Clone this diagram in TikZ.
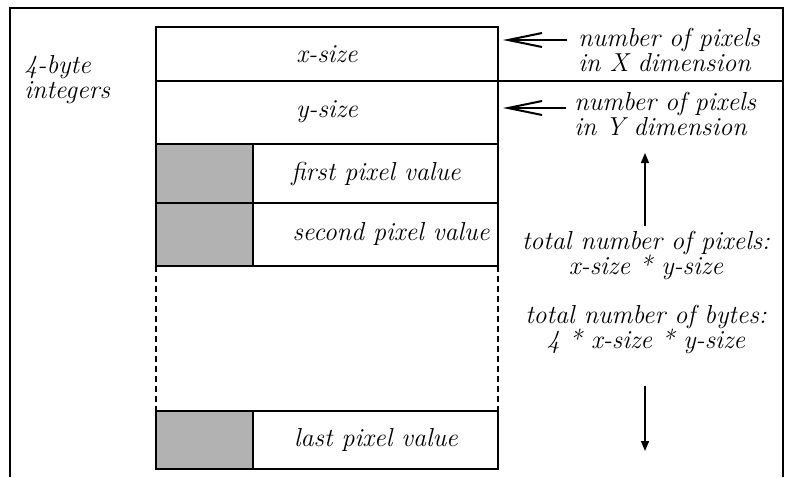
\documentclass[tikz,border=0pt]{standalone}
\usetikzlibrary{arrows.meta}
\begin{document}
\begin{tikzpicture}[x=0.5pt,y=-0.5pt,
  lbl/.style={font=\fontsize{13}{13.5}\selectfont\itshape, inner sep=0pt, align=center},
  lbll/.style={lbl, align=left, anchor=west},
  boxline/.style={line width=1.4pt},
  frameline/.style={line width=1pt},
  shade/.style={fill=black!30},
  barb/.style={-{Straight Barb[length=17pt,width=7pt,line width=1pt]}, line width=1pt},
  tri/.style={-{Triangle[length=5pt,width=4pt]}, line width=0.8pt}]
\useasboundingbox (0,0) rectangle (791,477);
% outer frame
\draw[frameline] (10,477) -- (10,8) -- (783,8) -- (783,477);
\draw[line width=0.7pt] (498,81) -- (783,81);
% shaded cells
\fill[shade] (156,144) rectangle (253,266);
\fill[shade] (156,411) rectangle (253,469);
% main box (upper part)
\draw[boxline] (156,266) -- (156,27) -- (498,27) -- (498,266);
\draw[boxline] (156,81) -- (498,81);
\draw[boxline] (156,144) -- (498,144);
\draw[boxline] (156,203) -- (498,203);
\draw[boxline] (156,266) -- (498,266);
\draw[boxline] (253,144) -- (253,266);
% dashed middle
\draw[boxline, dash pattern=on 3pt off 2pt] (156,266) -- (156,411);
\draw[boxline, dash pattern=on 3pt off 2pt] (498,266) -- (498,411);
% last row
\draw[boxline] (156,411) rectangle (498,469);
\draw[boxline] (253,411) -- (253,469);
% texts
\node[lbll] (ints) at (24,80) {4-byte\\[-1pt]integers};
\node[lbl] (xs) at (327,54) {x-size};
\node[lbl] (ys) at (327,112) {y-size};
\node[lbl] (fp) at (376,174) {first pixel value};
\node[lbl] (sp) at (391,234) {second pixel value};
\node[lbl] (lp) at (376,440) {last pixel value};
\node[lbll] (nx) at (578,50) {number of pixels\\[-1pt]in X dimension};
\node[lbll] (ny) at (574,114) {number of pixels\\[-1pt]in Y dimension};
\node[lbl] (tp) at (646,255) {total number of pixels:\\[-1pt]x-size * y-size};
\node[lbl] (tb) at (646,329) {total number of bytes:\\[-1pt]4 * x-size * y-size};
\coordinate (xe) at (503,40);
\coordinate (ye) at (503,108);
\coordinate (up) at (645,153);
\coordinate (dn) at (645,451);
\draw[barb] (567,40) -- (xe);
\draw[barb] (566,108) -- (ye);
\draw[tri] (tp.north -| up) ++(0,-4) -- (up);
\draw[tri] (tb.south -| dn) ++(0,32) -- (dn);
\end{tikzpicture}
\end{document}
